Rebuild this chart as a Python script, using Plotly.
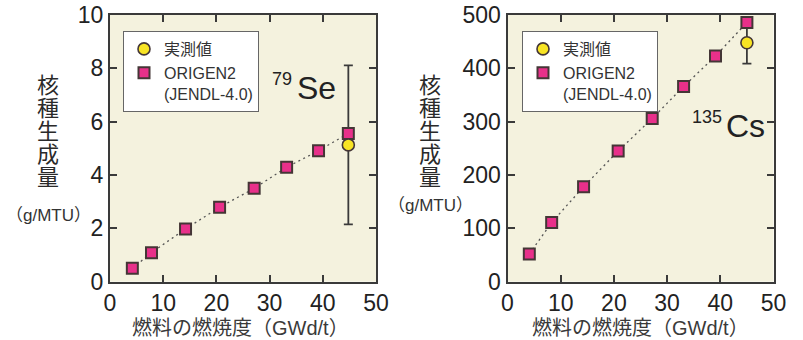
import plotly.graph_objects as go

# ---- data ----
burnup_se = [4.2, 7.8, 14.2, 20.6, 27.1, 33.2, 39.2, 44.8]
origen_se = [0.50, 1.09, 1.98, 2.79, 3.50, 4.29, 4.91, 5.56]
meas_se_x = [44.8]
meas_se_y = [5.13]
meas_se_err = [2.98]

burnup_cs = [4.1, 8.3, 14.3, 20.8, 27.2, 33.1, 39.1, 45.0]
origen_cs = [52, 111, 178, 245, 306, 366, 423, 486]
meas_cs_x = [45.0]
meas_cs_y = [448]
meas_cs_err = [39]

x_ticks = [0, 10, 20, 30, 40, 50]
se_ticks = [0, 2, 4, 6, 8, 10]
cs_ticks = [0, 100, 200, 300, 400, 500]

name_meas = "実測値"
name_calc = "ORIGEN2<br>(JENDL-4.0)"
ytitle_chars = ["核", "種", "生", "成", "量"]
yunit = "（g/MTU）"
xtitle = "燃料の燃焼度（GWd/t）"

W, H = 803, 340
FONT = "Liberation Sans, Arial, Noto Sans CJK JP"
SQ_COLOR = "#e8308a"
CI_COLOR = "#f8e424"
EDGE = "#443636"
BG = "#f4f2de"
AX = "#3a3a3a"

fig = go.Figure()


def add_panel(xref, yref, bx, by, mx, my, merr, legend):
    fig.add_trace(go.Scatter(x=bx, y=by, mode="lines", xaxis=xref, yaxis=yref,
                             line=dict(color="#555555", width=1.3, dash="2px,3.5px"),
                             showlegend=False, hoverinfo="skip"))
    fig.add_trace(go.Scatter(x=mx, y=my, mode="markers", xaxis=xref, yaxis=yref,
                             marker=dict(size=12, opacity=0),
                             error_y=dict(type="data", array=merr, visible=True,
                                          color=AX, thickness=1.8, width=4.5),
                             showlegend=False, hoverinfo="skip"))
    fig.add_trace(go.Scatter(x=bx, y=by, mode="markers", xaxis=xref, yaxis=yref,
                             name=name_calc, legend=legend, legendrank=2,
                             marker=dict(symbol="square", size=11, color=SQ_COLOR,
                                         line=dict(color=EDGE, width=2))))
    fig.add_trace(go.Scatter(x=mx, y=my, mode="markers", xaxis=xref, yaxis=yref,
                             name=name_meas, legend=legend, legendrank=1,
                             marker=dict(symbol="circle", size=12, color=CI_COLOR,
                                         line=dict(color=EDGE, width=1.6))))


add_panel("x", "y", burnup_se, origen_se, meas_se_x, meas_se_y, meas_se_err, "legend")
add_panel("x2", "y2", burnup_cs, origen_cs, meas_cs_x, meas_cs_y, meas_cs_err, "legend2")


def px(v):
    return v / W


def py(v):
    return 1 - v / H


axis_common = dict(showline=True, linecolor=AX, linewidth=2, mirror="ticks",
                   ticks="inside", ticklen=7, tickwidth=1.6, tickcolor=AX,
                   showgrid=False, zeroline=False, automargin=False,
                   ticklabeloverflow="allow",
                   tickfont=dict(family=FONT, size=23, color="#222222"))

ydom = [py(281.7), py(15)]
legend_common = dict(xanchor="left", yanchor="top",
                     bgcolor="white", bordercolor="#666666", borderwidth=1,
                     font=dict(family=FONT, size=16, color="#333333"), valign="top",
                     itemwidth=30)
fig.update_layout(
    width=W, height=H, template="none",
    margin=dict(l=0, r=0, t=0, b=0),
    paper_bgcolor="white", plot_bgcolor=BG,
    font=dict(family=FONT, color="#333333"),
    xaxis=dict(domain=[px(110), px(376)], range=[0, 50], tickvals=x_ticks, anchor="y", **axis_common),
    yaxis=dict(domain=ydom, range=[0, 10], tickvals=se_ticks, anchor="x", **axis_common),
    xaxis2=dict(domain=[px(507.5), px(773.5)], range=[0, 50], tickvals=x_ticks, anchor="y2", **axis_common),
    yaxis2=dict(domain=ydom, range=[0, 500], tickvals=cs_ticks, anchor="x2", **axis_common),
    legend=dict(x=px(123), y=py(31), **legend_common),
    legend2=dict(x=px(522), y=py(31), **legend_common),
    showlegend=True,
)

ann = []


def text(t, x, y, size, color="#333333", xanchor="center", height=None):
    a = dict(text=t, x=px(x), y=py(y), xref="paper", yref="paper",
             xanchor=xanchor, yanchor="middle", showarrow=False,
             font=dict(family=FONT, size=size, color=color))
    if height is not None:
        a["height"] = height
    ann.append(a)


char_y = [85, 108, 131, 154, 177]
for cx, unit_y in [(48, 215), (430, 206)]:
    for ch, yy in zip(ytitle_chars, char_y):
        text(ch, cx, yy, 22, "#2a2a2a", height=22)
    text(yunit, cx, unit_y, 17)
for cx in [241, 640]:
    text(xtitle, cx, 328, 20, "#3a3a3a")
text("79", 294, 79, 18, "#222222", xanchor="right")
text("Se", 295, 88, 32, "#222222", xanchor="left")
text("135", 724, 117, 18, "#222222", xanchor="right")
text("Cs", 724, 126, 32, "#222222", xanchor="left")
fig.update_layout(annotations=ann)

fig.write_html("out.html", config={"displayModeBar": False},
               post_script="document.body.style.margin='0';")
